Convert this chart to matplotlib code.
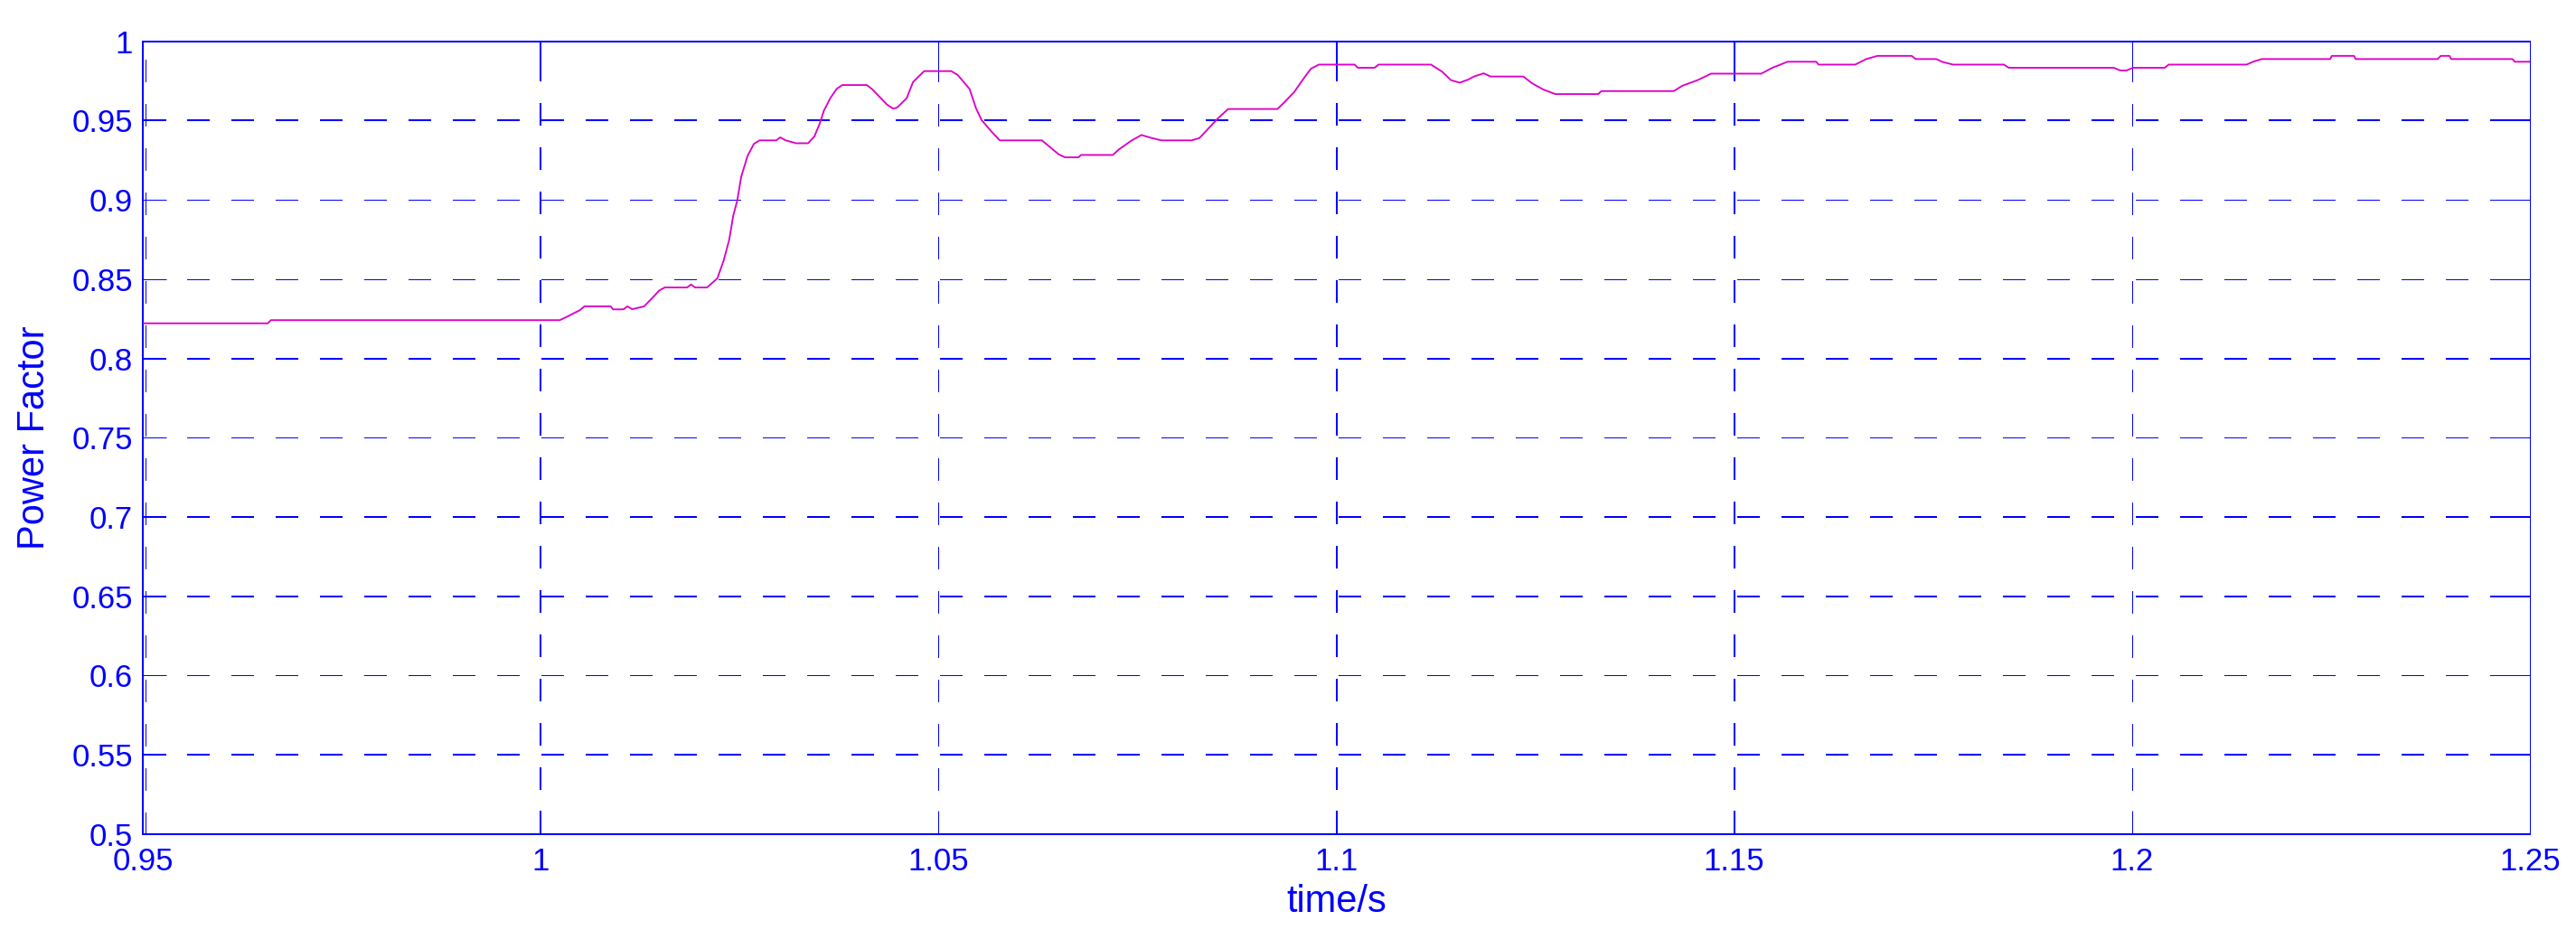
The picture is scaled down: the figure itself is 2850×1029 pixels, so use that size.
import matplotlib
matplotlib.use("Agg")
import matplotlib.pyplot as plt
from matplotlib import transforms

plt.rcParams['font.family'] = ['Liberation Sans', 'DejaVu Sans']
plt.rcParams['lines.scale_dashes'] = False

# ---- data ----
time_s = [0.9500, 0.9657, 0.9661, 1.0024, 1.0030, 1.0038, 1.0049, 1.0055, 1.0088, 1.0091,
          1.0104, 1.0109, 1.0115, 1.0130, 1.0140, 1.0149, 1.0156, 1.0184, 1.0189, 1.0194,
          1.0209, 1.0222, 1.0230, 1.0237, 1.0242, 1.0247, 1.0252, 1.0260, 1.0268, 1.0275,
          1.0296, 1.0301, 1.0308, 1.0321, 1.0336, 1.0344, 1.0351, 1.0356, 1.0364, 1.0372,
          1.0379, 1.0410, 1.0417, 1.0435, 1.0443, 1.0448, 1.0460, 1.0468, 1.0482, 1.0516,
          1.0524, 1.0539, 1.0547, 1.0554, 1.0567, 1.0577, 1.0630, 1.0651, 1.0659, 1.0676,
          1.0679, 1.0719, 1.0727, 1.0742, 1.0755, 1.0765, 1.0780, 1.0818, 1.0828, 1.0851,
          1.0864, 1.0926, 1.0934, 1.0947, 1.0958, 1.0968, 1.0978, 1.1023, 1.1027, 1.1048,
          1.1053, 1.1119, 1.1133, 1.1144, 1.1155, 1.1166, 1.1173, 1.1185, 1.1194, 1.1235,
          1.1246, 1.1260, 1.1275, 1.1329, 1.1333, 1.1424, 1.1435, 1.1454, 1.1471, 1.1534,
          1.1548, 1.1567, 1.1603, 1.1606, 1.1652, 1.1666, 1.1680, 1.1723, 1.1728, 1.1754,
          1.1761, 1.1775, 1.1839, 1.1845, 1.1977, 1.1985, 1.1993, 1.2001, 1.2041, 1.2046,
          1.2144, 1.2152, 1.2163, 1.2249, 1.2251, 1.2279, 1.2281, 1.2384, 1.2388, 1.2399,
          1.2401, 1.2478, 1.2481, 1.2500]
power_factor = [0.8221, 0.8221, 0.8241, 0.8241, 0.8255, 0.8275, 0.8303, 0.8328, 0.8328, 0.8309,
                0.8309, 0.8328, 0.8310, 0.8328, 0.8379, 0.8428, 0.8447, 0.8447, 0.8466, 0.8447,
                0.8447, 0.8504, 0.8617, 0.8749, 0.8900, 0.8994, 0.9145, 0.9277, 0.9353, 0.9375,
                0.9375, 0.9394, 0.9375, 0.9357, 0.9357, 0.9400, 0.9485, 0.9563, 0.9641, 0.9700,
                0.9724, 0.9724, 0.9696, 0.9602, 0.9575, 0.9582, 0.9641, 0.9743, 0.9812, 0.9812,
                0.9788, 0.9700, 0.9579, 0.9504, 0.9428, 0.9375, 0.9375, 0.9287, 0.9268, 0.9268,
                0.9283, 0.9283, 0.9319, 0.9372, 0.9409, 0.9394, 0.9375, 0.9375, 0.9390, 0.9513,
                0.9573, 0.9573, 0.9612, 0.9680, 0.9759, 0.9827, 0.9853, 0.9853, 0.9833, 0.9833,
                0.9853, 0.9853, 0.9808, 0.9755, 0.9739, 0.9759, 0.9778, 0.9798, 0.9778, 0.9778,
                0.9735, 0.9696, 0.9667, 0.9667, 0.9686, 0.9686, 0.9720, 0.9755, 0.9796, 0.9796,
                0.9833, 0.9871, 0.9871, 0.9853, 0.9853, 0.9888, 0.9908, 0.9908, 0.9888, 0.9888,
                0.9871, 0.9853, 0.9853, 0.9833, 0.9833, 0.9816, 0.9816, 0.9833, 0.9833, 0.9853,
                0.9853, 0.9871, 0.9888, 0.9888, 0.9908, 0.9908, 0.9888, 0.9888, 0.9908, 0.9908,
                0.9888, 0.9888, 0.9871, 0.9871]

x_ticks = [0.95, 1.0, 1.05, 1.1, 1.15, 1.2, 1.25]
x_tick_labels = ['0.95', '1', '1.05', '1.1', '1.15', '1.2', '1.25']
y_ticks = [0.5, 0.55, 0.6, 0.65, 0.7, 0.75, 0.8, 0.85, 0.9, 0.95, 1.0]
y_tick_labels = ['0.5', '0.55', '0.6', '0.65', '0.7', '0.75', '0.8', '0.85', '0.9', '0.95', '1']

# ---- styling ----
BLUE = '#0000ff'
LINE = '#dc00c8'
PX = 0.72  # one pixel in points at dpi 100
THICK, THIN = 2 * PX, 1 * PX
x_widths = [THIN, THICK, THIN, THICK, THICK, THIN, THIN]
y_widths = [THICK, THICK, THIN, THICK, THICK, THIN, THICK, THIN, THIN, THICK, THICK]
dash = (0, (24 * PX, 24 * PX))

fig = plt.figure(figsize=(28.5, 10.29), dpi=100)
ax = fig.add_axes([0.05544, 0.1033, 0.92667, 0.85229])

ax.plot(time_s, power_factor, color=LINE, lw=1.35, zorder=3)

ax.set_xlim(0.95, 1.25)
ax.set_ylim(0.5, 1.0)

# grid lines (MATLAB-style dashed)
off = transforms.offset_copy(ax.get_xaxis_transform(), fig=fig, x=3, y=0, units='dots')
for xv, w in zip(x_ticks[:-1], x_widths[:-1]):
    tr = off if xv == x_ticks[0] else ax.get_xaxis_transform()
    ax.plot([xv, xv], [0, 1], transform=tr, color=BLUE, lw=w, linestyle=dash,
            antialiased=False, zorder=1)
for yv, w in zip(y_ticks[1:-1], y_widths[1:-1]):
    ax.plot([0, 1], [yv, yv], transform=ax.get_yaxis_transform(), color=BLUE, lw=w,
            linestyle=dash, antialiased=False, zorder=1)

ax.set_xticks(x_ticks)
ax.set_xticklabels(x_tick_labels)
ax.set_yticks(y_ticks)
ax.set_yticklabels(y_tick_labels)
ax.tick_params(axis='both', direction='in', length=26 * PX, color=BLUE, labelcolor=BLUE,
               labelsize=25, top=True, right=True)
ax.tick_params(axis='x', pad=10)
ax.tick_params(axis='y', pad=8)
for t, w in zip(ax.xaxis.get_major_ticks(), x_widths):
    t.tick1line.set_markeredgewidth(w)
    t.tick2line.set_markeredgewidth(w)
for t, w in zip(ax.yaxis.get_major_ticks(), y_widths):
    t.tick1line.set_markeredgewidth(w)
    t.tick2line.set_markeredgewidth(w)

for side, sp in ax.spines.items():
    sp.set_color(BLUE)
    sp.set_linewidth(THIN if side == 'right' else THICK)
    sp.set_antialiased(False)

ax.set_xlabel('time/s', fontsize=30, color=BLUE, labelpad=6)
ax.set_ylabel('Power Factor', fontsize=30, color=BLUE, labelpad=15)

fig.savefig('out.png', dpi=100)
